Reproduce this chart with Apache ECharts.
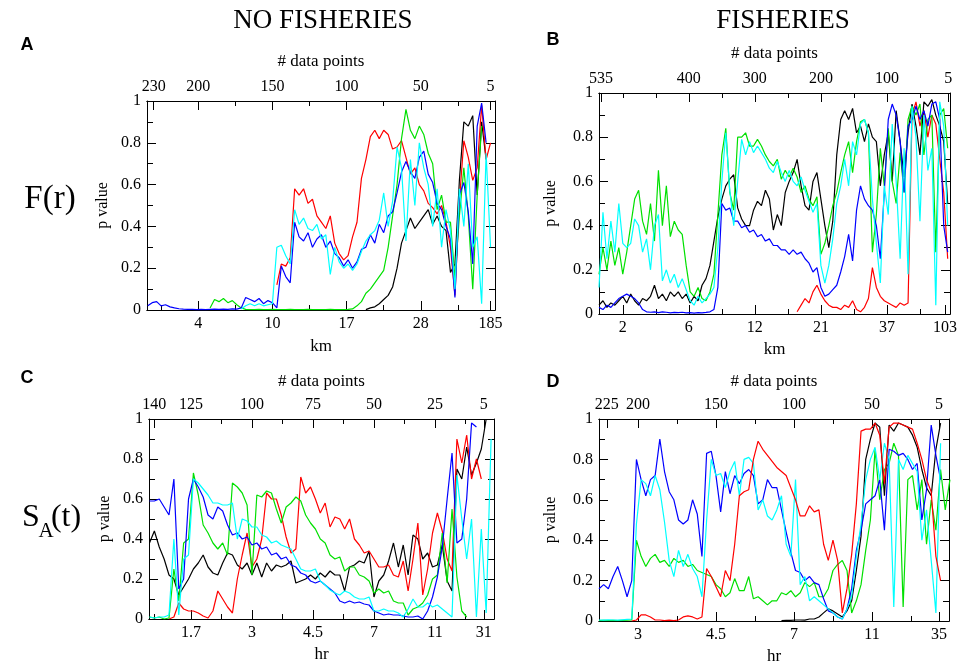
<!DOCTYPE html>
<html>
<head>
<meta charset="utf-8">
<script src="https://cdn.jsdelivr.net/npm/echarts@6/dist/echarts.min.js"></script>
<style>
  html, body { margin: 0; padding: 0; background: #fff; }
  #chart { width: 964px; height: 665px; }
</style>
</head>
<body>
<div id="chart"></div>
<script>
// Each series starts at its *From value and steps down by the panel step.

// ---- A: F(r), no fisheries (step 3) ----
const aStep = 3;
const aBlackFrom = 87;
const aBlack = [0.002,0.01,0.015,0.03,0.05,0.07,0.11,0.20,0.32,0.38,0.44,0.39,0.42,0.45,0.48,0.41,0.45,0.40,0.38,0.18,
  0.22,0.62,0.90,0.88,0.93,0.55,0.90,0.72];
const aRedFrom = 147;
const aRed = [0.12,0.22,0.21,0.25,0.58,0.55,0.58,0.51,0.53,0.45,0.42,0.39,0.45,0.32,0.27,0.24,0.26,0.35,0.42,0.63,
  0.72,0.83,0.86,0.82,0.86,0.84,0.77,0.78,0.81,0.73,0.65,0.68,0.60,0.57,0.51,0.49,0.46,0.50,0.42,0.30,
  0.07,0.52,0.81,0.73,0.62,0.68,0.98,0.72,0.80];
const aGreenFrom = 192;
const aGreen = [0.01,0.05,0.04,0.055,0.035,0.045,0.025,0.01,0.003,
  0.002,0.002,0.003,0.002,0.002,0.003,0.002,0.002,0.002,0.003,0.002,0.002,0.002,0.003,0.002,0.002,0.002,0.002,0.003,0.002,0.002,0.002,
  0.003,0.005,0.02,0.04,0.08,0.10,0.13,0.16,0.19,0.30,0.45,0.60,0.82,0.96,0.86,0.82,0.88,0.84,0.75,0.70,
  0.48,0.55,0.42,0.42,0.15,0.45,0.68,0.45,0.10,0.55,0.88];
const aBlueFrom = 234;
const aBlue = [0.02,0.035,0.04,0.02,0.025,0.015,0.01,0.006,0.004,0.003,0.003,0.002,0.003,0.002,0.003,0.004,0.003,0.004,0.003,0.005,
  0.004,0.01,0.06,0.05,0.04,0.055,0.03,0.045,0.035,0.01,0.21,0.16,0.13,0.42,0.35,0.33,0.37,0.30,0.34,0.36,
  0.30,0.33,0.27,0.25,0.21,0.24,0.20,0.23,0.29,0.30,0.36,0.32,0.41,0.37,0.45,0.47,0.56,0.66,0.71,0.66,
  0.63,0.73,0.76,0.65,0.61,0.51,0.48,0.40,0.34,0.06,0.55,0.61,0.47,0.22,0.88,0.99,0.80];
const aCyanFrom = 171;
const aCyan = [0.005,0.02,0.03,0.02,0.03,0.02,0.025,0.03,0.30,0.31,0.26,0.22,0.48,0.41,0.44,0.39,0.38,0.41,0.34,0.36,
  0.17,0.30,0.23,0.20,0.22,0.19,0.22,0.28,0.33,0.36,0.38,0.43,0.56,0.40,0.52,0.78,0.68,0.33,0.72,0.50,
  0.80,0.68,0.60,0.40,0.58,0.30,0.48,0.38,0.10,0.58,0.40,0.70,0.30,0.35,0.03,0.75,0.30];

// ---- B: F(r), fisheries (step 6) ----
const bStep = 6;
const bBlackFrom = 536;
const bBlack = [0.04,0.06,0.03,0.05,0.04,0.06,0.08,0.05,0.09,0.06,0.04,0.07,0.06,0.08,0.13,0.07,0.09,0.06,0.10,0.08,
  0.10,0.07,0.09,0.05,0.08,0.06,0.13,0.16,0.22,0.33,0.44,0.52,0.58,0.61,0.63,0.48,0.43,0.40,0.40,0.47,
  0.51,0.49,0.56,0.52,0.38,0.45,0.40,0.55,0.60,0.64,0.70,0.58,0.49,0.47,0.60,0.64,0.52,0.40,0.30,0.42,
  0.72,0.88,0.92,0.88,0.93,0.82,0.85,0.78,0.86,0.80,0.78,0.58,0.72,0.82,0.60,0.92,0.78,0.62,0.82,0.95,
  0.85,0.72,0.96,0.94,0.97,0.90,0.85,0.78,0.50];
const bRedFrom = 236;
const bRed = [0.01,0.04,0.07,0.05,0.10,0.13,0.09,0.06,0.04,0.03,0.03,0.02,0.04,0.03,0.06,0.02,0.01,0.03,0.07,0.21,
  0.12,0.08,0.06,0.05,0.04,0.03,0.05,0.04,0.05,0.90,0.96,0.85,0.92,0.80,0.90,0.86,0.70,0.55,0.25];
const bGreenFrom = 536;
const bGreen = [0.18,0.30,0.20,0.33,0.22,0.30,0.18,0.28,0.40,0.52,0.56,0.42,0.36,0.50,0.33,0.65,0.40,0.58,0.35,0.42,
  0.38,0.36,0.22,0.10,0.08,0.12,0.07,0.06,0.10,0.18,0.45,0.72,0.84,0.55,0.47,0.80,0.80,0.82,0.76,0.76,
  0.79,0.76,0.72,0.69,0.67,0.70,0.61,0.65,0.62,0.66,0.62,0.55,0.58,0.52,0.49,0.53,0.27,0.32,0.40,0.49,
  0.55,0.64,0.72,0.78,0.64,0.78,0.87,0.88,0.82,0.28,0.45,0.75,0.58,0.84,0.60,0.50,0.73,0.55,0.88,0.94,
  0.90,0.95,0.72,0.88,0.90,0.28,0.90,0.93,0.75];
const bBlueFrom = 536;
const bBlue = [0.03,0.02,0.04,0.03,0.05,0.07,0.08,0.09,0.08,0.07,0.05,0.02,0.01,0.008,0.01,0.006,0.01,0.008,0.005,0.007,
  0.006,0.008,0.005,0.006,0.004,0.006,0.005,0.007,0.01,0.02,0.12,0.50,0.47,0.48,0.42,0.42,0.39,0.40,0.37,0.38,
  0.35,0.36,0.33,0.34,0.31,0.31,0.29,0.29,0.27,0.29,0.27,0.28,0.25,0.23,0.19,0.21,0.12,0.08,0.09,0.11,
  0.13,0.19,0.26,0.36,0.24,0.47,0.58,0.52,0.49,0.47,0.40,0.25,0.55,0.88,0.95,0.90,0.78,0.55,0.85,0.88,
  0.94,0.88,0.92,0.85,0.95,0.96,0.88,0.40,0.28];
const bCyanFrom = 536;
const bCyan = [0.12,0.46,0.25,0.42,0.28,0.50,0.32,0.30,0.32,0.43,0.40,0.28,0.34,0.20,0.40,0.45,0.15,0.20,0.14,0.18,
  0.12,0.16,0.11,0.06,0.04,0.08,0.05,0.07,0.09,0.12,0.30,0.60,0.82,0.56,0.40,0.60,0.79,0.72,0.78,0.73,
  0.76,0.73,0.70,0.66,0.64,0.69,0.64,0.60,0.65,0.60,0.58,0.62,0.56,0.51,0.46,0.50,0.22,0.14,0.22,0.34,
  0.50,0.58,0.70,0.58,0.78,0.72,0.86,0.88,0.82,0.52,0.32,0.14,0.58,0.45,0.86,0.60,0.25,0.75,0.18,0.94,
  0.80,0.42,0.90,0.65,0.75,0.04,0.96,0.85,0.40];

// ---- C: S_A(t), no fisheries (step 2) ----
const cStep = 2;
const cBlackFrom = 142;
const cBlack = [0.38,0.44,0.36,0.30,0.22,0.20,0.12,0.16,0.20,0.25,0.28,0.32,0.26,0.23,0.22,0.28,0.33,0.32,0.27,0.25,
  0.28,0.22,0.28,0.21,0.28,0.24,0.27,0.26,0.27,0.29,0.18,0.19,0.20,0.22,0.20,0.23,0.21,0.24,0.22,0.22,
  0.14,0.26,0.27,0.29,0.28,0.34,0.11,0.19,0.22,0.29,0.38,0.26,0.37,0.22,0.42,0.40,0.30,0.33,0.26,0.27,
  0.37,0.19,0.14,0.75,0.70,0.86,0.72,0.78,0.85,1.0];
const cRedFrom = 134;
const cRed = [0.0,0.01,0.08,0.05,0.04,0.04,0.03,0.015,0.005,0.04,0.14,0.10,0.06,0.03,0.20,0.32,0.43,0.26,0.30,0.40,
  0.63,0.60,0.60,0.52,0.41,0.33,0.35,0.71,0.63,0.66,0.60,0.53,0.58,0.46,0.51,0.50,0.45,0.50,0.40,0.37,
  0.33,0.34,0.30,0.26,0.26,0.27,0.22,0.21,0.29,0.14,0.30,0.48,0.12,0.25,0.43,0.53,0.44,0.30,0.24,0.90,
  0.78,0.92,0.70,0.80,0.70];
const cGreenFrom = 142;
const cGreen = [0.01,0.005,0.01,0.0,0.005,0.25,0.09,0.38,0.40,0.73,0.62,0.47,0.43,0.38,0.35,0.38,0.32,0.68,0.66,0.63,
  0.57,0.22,0.62,0.61,0.64,0.63,0.55,0.48,0.56,0.58,0.61,0.59,0.52,0.48,0.45,0.40,0.38,0.32,0.30,0.31,
  0.24,0.26,0.26,0.22,0.21,0.19,0.13,0.15,0.13,0.14,0.09,0.08,0.08,0.02,0.05,0.06,0.08,0.12,0.20,0.22,
  0.43,0.18,0.55,0.21,0.04,0.01];
const cBlueFrom = 142;
const cBlue = [0.59,0.59,0.60,0.56,0.52,0.70,0.15,0.20,0.60,0.70,0.66,0.61,0.52,0.50,0.56,0.54,0.47,0.42,0.43,0.40,
  0.41,0.37,0.38,0.35,0.36,0.32,0.33,0.30,0.31,0.27,0.26,0.23,0.22,0.19,0.18,0.19,0.17,0.15,0.13,0.09,
  0.08,0.09,0.08,0.085,0.075,0.07,0.04,0.03,0.02,0.025,0.02,0.02,0.015,0.01,0.01,0.015,0.0,0.04,0.11,0.21,
  0.36,0.60,0.83,0.38,0.40,0.60,0.98,0.96];
const cCyanFrom = 142;
const cCyan = [0.01,0.005,0.01,0.01,0.02,0.40,0.02,0.30,0.32,0.70,0.68,0.65,0.62,0.58,0.58,0.57,0.57,0.58,0.40,0.50,
  0.49,0.46,0.46,0.42,0.41,0.38,0.39,0.37,0.36,0.35,0.30,0.25,0.24,0.24,0.25,0.19,0.17,0.145,0.13,0.12,
  0.14,0.13,0.11,0.10,0.10,0.11,0.04,0.04,0.05,0.04,0.04,0.03,0.01,0.05,0.10,0.06,0.06,0.08,0.06,0.07,
  0.05,0.03,0.01,0.72,0.50,0.30,0.50,0.01,0.45,0.03,0.90];

// ---- D: S_A(t), fisheries (step 3) ----
const dStep = 3;
const dBlackFrom = 108;
const dBlack = [0.002,0.003,0.003,0.005,0.005,0.004,0.01,0.01,0.02,0.04,0.06,0.05,0.035,0.02,0.05,0.10,0.25,0.42,0.80,0.90,
  0.98,0.96,0.62,0.97,0.94,0.98,0.97,0.96,0.92,0.86,0.75,0.66,0.62,0.85,0.98];
const dRedFrom = 204;
const dRed = [0.0,0.005,0.03,0.03,0.02,0.005,0.005,0.002,0.004,0.002,0.005,0.02,0.025,0.02,0.01,0.02,0.26,0.22,0.17,0.12,
  0.25,0.20,0.38,0.62,0.64,0.65,0.80,0.89,0.85,0.82,0.79,0.76,0.74,0.72,0.66,0.60,0.52,0.52,0.57,0.54,
  0.55,0.38,0.30,0.40,0.30,0.04,0.16,0.33,0.58,0.94,0.95,0.95,0.98,0.92,0.68,0.96,0.98,0.98,0.97,0.96,
  0.95,0.88,0.80,0.70,0.64,0.32,0.20];
const dGreenFrom = 225;
const dGreen = [0.002,0.003,0.002,0.003,0.002,0.003,0.004,0.005,0.40,0.32,0.27,0.31,0.33,0.29,0.30,0.27,0.31,0.29,0.30,0.27,
  0.28,0.25,0.24,0.23,0.22,0.18,0.16,0.12,0.14,0.21,0.15,0.15,0.22,0.11,0.12,0.10,0.08,0.10,0.10,0.14,
  0.13,0.15,0.12,0.14,0.19,0.17,0.19,0.12,0.12,0.16,0.25,0.28,0.30,0.25,0.04,0.10,0.18,0.35,0.50,0.85,
  0.60,0.75,0.78,0.88,0.82,0.07,0.70,0.72,0.55,0.70,0.38,0.60,0.45,0.75,0.55,0.70];
const dBlueFrom = 225;
const dBlue = [0.16,0.18,0.16,0.22,0.27,0.20,0.12,0.20,0.80,0.70,0.62,0.70,0.72,0.90,0.74,0.64,0.60,0.50,0.48,0.50,
  0.60,0.53,0.32,0.83,0.84,0.72,0.54,0.74,0.63,0.72,0.68,0.73,0.75,0.72,0.58,0.60,0.70,0.66,0.66,0.55,
  0.44,0.34,0.25,0.24,0.20,0.22,0.19,0.18,0.11,0.05,0.04,0.02,0.01,0.06,0.16,0.35,0.45,0.58,0.60,0.62,
  0.70,0.45,0.85,0.84,0.82,0.83,0.80,0.75,0.78,0.50,0.65,0.97,0.82,0.70];
const dCyanFrom = 225;
const dCyan = [0.005,0.004,0.006,0.005,0.004,0.006,0.008,0.01,0.48,0.70,0.68,0.62,0.72,0.65,0.49,0.30,0.22,0.35,0.27,0.33,
  0.26,0.22,0.12,0.50,0.80,0.72,0.73,0.66,0.74,0.79,0.62,0.80,0.81,0.78,0.55,0.60,0.52,0.50,0.55,0.62,
  0.38,0.32,0.70,0.18,0.22,0.10,0.12,0.10,0.08,0.06,0.04,0.02,0.01,0.06,0.12,0.32,0.48,0.70,0.80,0.86,
  0.70,0.88,0.80,0.07,0.80,0.75,0.82,0.78,0.74,0.40,0.55,0.30,0.04,0.88];

// ---- axis ticks (positions in # data points) and their labels ----
const aTopTicks = [230, 200, 150, 100, 50, 3];
const aTopLabels = ['230', '200', '150', '100', '50', '5'];
const aTopMinor = [175, 125, 75, 25];
const aBotTicks = [200, 150, 100, 50, 3];
const aBotLabels = ['4', '10', '17', '28', '185'];
const aBotMinor = [225, 175, 125, 75, 25];

const bTopTicks = [533, 400, 300, 200, 100, 7];
const bTopLabels = ['535', '400', '300', '200', '100', '5'];
const bTopMinor = [500, 450, 350, 250, 150, 50];
const bBotTicks = [500, 400, 300, 200, 100, 12];
const bBotLabels = ['2', '6', '12', '21', '37', '103'];
const bBotMinor = [450, 350, 250, 150, 50];

const cTopTicks = [140, 125, 100, 75, 50, 25, 5];
const cTopLabels = ['140', '125', '100', '75', '50', '25', '5'];
const cTopMinor = [112.5, 87.5, 62.5, 37.5, 12.5];
const cBotTicks = [125, 100, 75, 50, 25, 5];
const cBotLabels = ['1.7', '3', '4.5', '7', '11', '31'];
const cBotMinor = [140, 112.5, 87.5, 62.5, 37.5, 12.5];

const dTopTicks = [220, 200, 150, 100, 50, 7];
const dTopLabels = ['225', '200', '150', '100', '50', '5'];
const dTopMinor = [175, 125, 75, 25];
const dBotTicks = [200, 150, 100, 50, 7];
const dBotLabels = ['3', '4.5', '7', '11', '35'];
const dBotMinor = [175, 125, 75, 25];

const SERIF = '"Liberation Serif", "Times New Roman", serif';
const colors = { black: '#000000', red: '#ff0000', green: '#00e000', blue: '#0000ff', cyan: '#00ffff' };

function pts(vals, fromN, step) {
    return vals.map((v, i) => [fromN - i * step, v]);
}

const panels = [
    {
        grid: { left: 147, top: 101, width: 348, height: 209 }, nMax: 234.5, nMin: 0,
        top: [aTopTicks, aTopLabels, aTopMinor], bot: [aBotTicks, aBotLabels, aBotMinor],
        unit: 'km', topGap: 31, botGap: 28, yGap: 36,
        lines: [['black', aBlack, aBlackFrom, aStep], ['red', aRed, aRedFrom, aStep], ['green', aGreen, aGreenFrom, aStep],
            ['blue', aBlue, aBlueFrom, aStep], ['cyan', aCyan, aCyanFrom, aStep]]
    },
    {
        grid: { left: 599, top: 93, width: 351, height: 221 }, nMax: 536, nMin: 4.5,
        top: [bTopTicks, bTopLabels, bTopMinor], bot: [bBotTicks, bBotLabels, bBotMinor],
        unit: 'km', topGap: 31, botGap: 27, yGap: 40,
        lines: [['red', bRed, bRedFrom, bStep], ['black', bBlack, bBlackFrom, bStep], ['green', bGreen, bGreenFrom, bStep],
            ['blue', bBlue, bBlueFrom, bStep], ['cyan', bCyan, bCyanFrom, bStep]]
    },
    {
        grid: { left: 149, top: 419, width: 345, height: 200 }, nMax: 142.2, nMin: 0.8,
        top: [cTopTicks, cTopLabels, cTopMinor], bot: [cBotTicks, cBotLabels, cBotMinor],
        unit: 'hr', topGap: 29, botGap: 27, yGap: 36,
        lines: [['black', cBlack, cBlackFrom, cStep], ['red', cRed, cRedFrom, cStep], ['green', cGreen, cGreenFrom, cStep],
            ['blue', cBlue, cBlueFrom, cStep], ['cyan', cCyan, cCyanFrom, cStep]]
    },
    {
        grid: { left: 599, top: 419, width: 350, height: 202 }, nMax: 225, nMin: 0.6,
        top: [dTopTicks, dTopLabels, dTopMinor], bot: [dBotTicks, dBotLabels, dBotMinor],
        unit: 'hr', topGap: 29, botGap: 27, yGap: 40,
        lines: [['black', dBlack, dBlackFrom, dStep], ['green', dGreen, dGreenFrom, dStep], ['blue', dBlue, dBlueFrom, dStep],
            ['cyan', dCyan, dCyanFrom, dStep], ['red', dRed, dRedFrom, dStep]]
    }
];

const axisLine = { show: true, onZero: false, lineStyle: { color: '#000', width: 1 } };
const labelFont = { fontFamily: SERIF, fontSize: 16, color: '#000' };
const nameFont = { fontFamily: SERIF, fontSize: 17, color: '#000' };

let grids = [], xAxes = [], yAxes = [], series = [];

panels.forEach((p, gi) => {
    grids.push(Object.assign({ containLabel: false, outerBoundsMode: 'none' }, p.grid));
    const base = { type: 'value', gridIndex: gi, min: p.nMin, max: p.nMax, inverse: true,
        axisLine, splitLine: { show: false } };
    const major = (pos, set, name, gap) => Object.assign({}, base, {
        position: pos,
        name: name, nameLocation: 'middle', nameGap: gap, nameTextStyle: nameFont,
        axisTick: { show: true, inside: true, length: 9, customValues: set[0], lineStyle: { color: '#000' } },
        axisLabel: Object.assign({ show: true, margin: 6, customValues: set[0],
            formatter: v => set[1][set[0].indexOf(v)] }, labelFont)
    });
    const minor = (pos, set) => Object.assign({}, base, {
        position: pos,
        axisTick: { show: true, inside: true, length: 5, customValues: set[2], lineStyle: { color: '#000' } },
        axisLabel: { show: false }
    });
    const xi = xAxes.length;
    xAxes.push(major('bottom', p.bot, p.unit, p.botGap));
    xAxes.push(minor('bottom', p.bot));
    xAxes.push(major('top', p.top, '# data points', p.topGap));
    xAxes.push(minor('top', p.top));

    const yBase = { type: 'value', gridIndex: gi, min: 0, max: 1, interval: 0.2, axisLine,
        splitLine: { show: false },
        axisTick: { show: true, inside: true, length: 9, lineStyle: { color: '#000' } },
        minorTick: { show: true, splitNumber: 2, length: 6, lineStyle: { color: '#000' } } };
    const yi = yAxes.length;
    yAxes.push(Object.assign({}, yBase, {
        position: 'left', name: 'p value', nameLocation: 'middle', nameGap: p.yGap, nameRotate: 90,
        nameTextStyle: { fontFamily: SERIF, fontSize: 16, color: '#000' },
        axisLabel: Object.assign({ margin: 6,
            formatter: v => (v === 0 || v === 1) ? String(v) : v.toFixed(1) }, labelFont)
    }));
    yAxes.push(Object.assign({}, yBase, { position: 'right', axisLabel: { show: false } }));

    p.lines.forEach(([c, vals, from, step]) => {
        series.push({
            type: 'line', xAxisIndex: xi, yAxisIndex: yi,
            data: pts(vals, from, step),
            symbol: 'none', showSymbol: false,
            lineStyle: { color: colors[c], width: 1.2 },
            itemStyle: { color: colors[c] },
            animation: false, silent: true
        });
    });
});

const txt = (text, x, y, font, align) => ({
    type: 'text', x: x, y: y, silent: true,
    style: { text: text, font: font, fill: '#000',
        align: align || 'center', verticalAlign: 'middle',
        textAlign: align || 'center', textVerticalAlign: 'middle' }
});
const bigSerif = '27px ' + SERIF;
const letterFont = 'bold 18px "Liberation Sans", Arial, sans-serif';

const option = {
    animation: false,
    backgroundColor: '#fff',
    grid: grids,
    xAxis: xAxes,
    yAxis: yAxes,
    series: series,
    graphic: [
        txt('NO FISHERIES', 323, 21, bigSerif),
        txt('FISHERIES', 783, 21, bigSerif),
        txt('A', 27, 45, letterFont),
        txt('B', 553, 40, letterFont),
        txt('C', 27, 378, letterFont),
        txt('D', 553, 382, letterFont),
        txt('F(r)', 50, 199, '33px ' + SERIF),
        txt('S', 31, 518, '32px ' + SERIF),
        txt('A', 46, 531, '21px ' + SERIF),
        txt('(t)', 66, 518, '32px ' + SERIF)
    ]
};

const chart = echarts.init(document.getElementById('chart'));
chart.setOption(option);
</script>
</body>
</html>
